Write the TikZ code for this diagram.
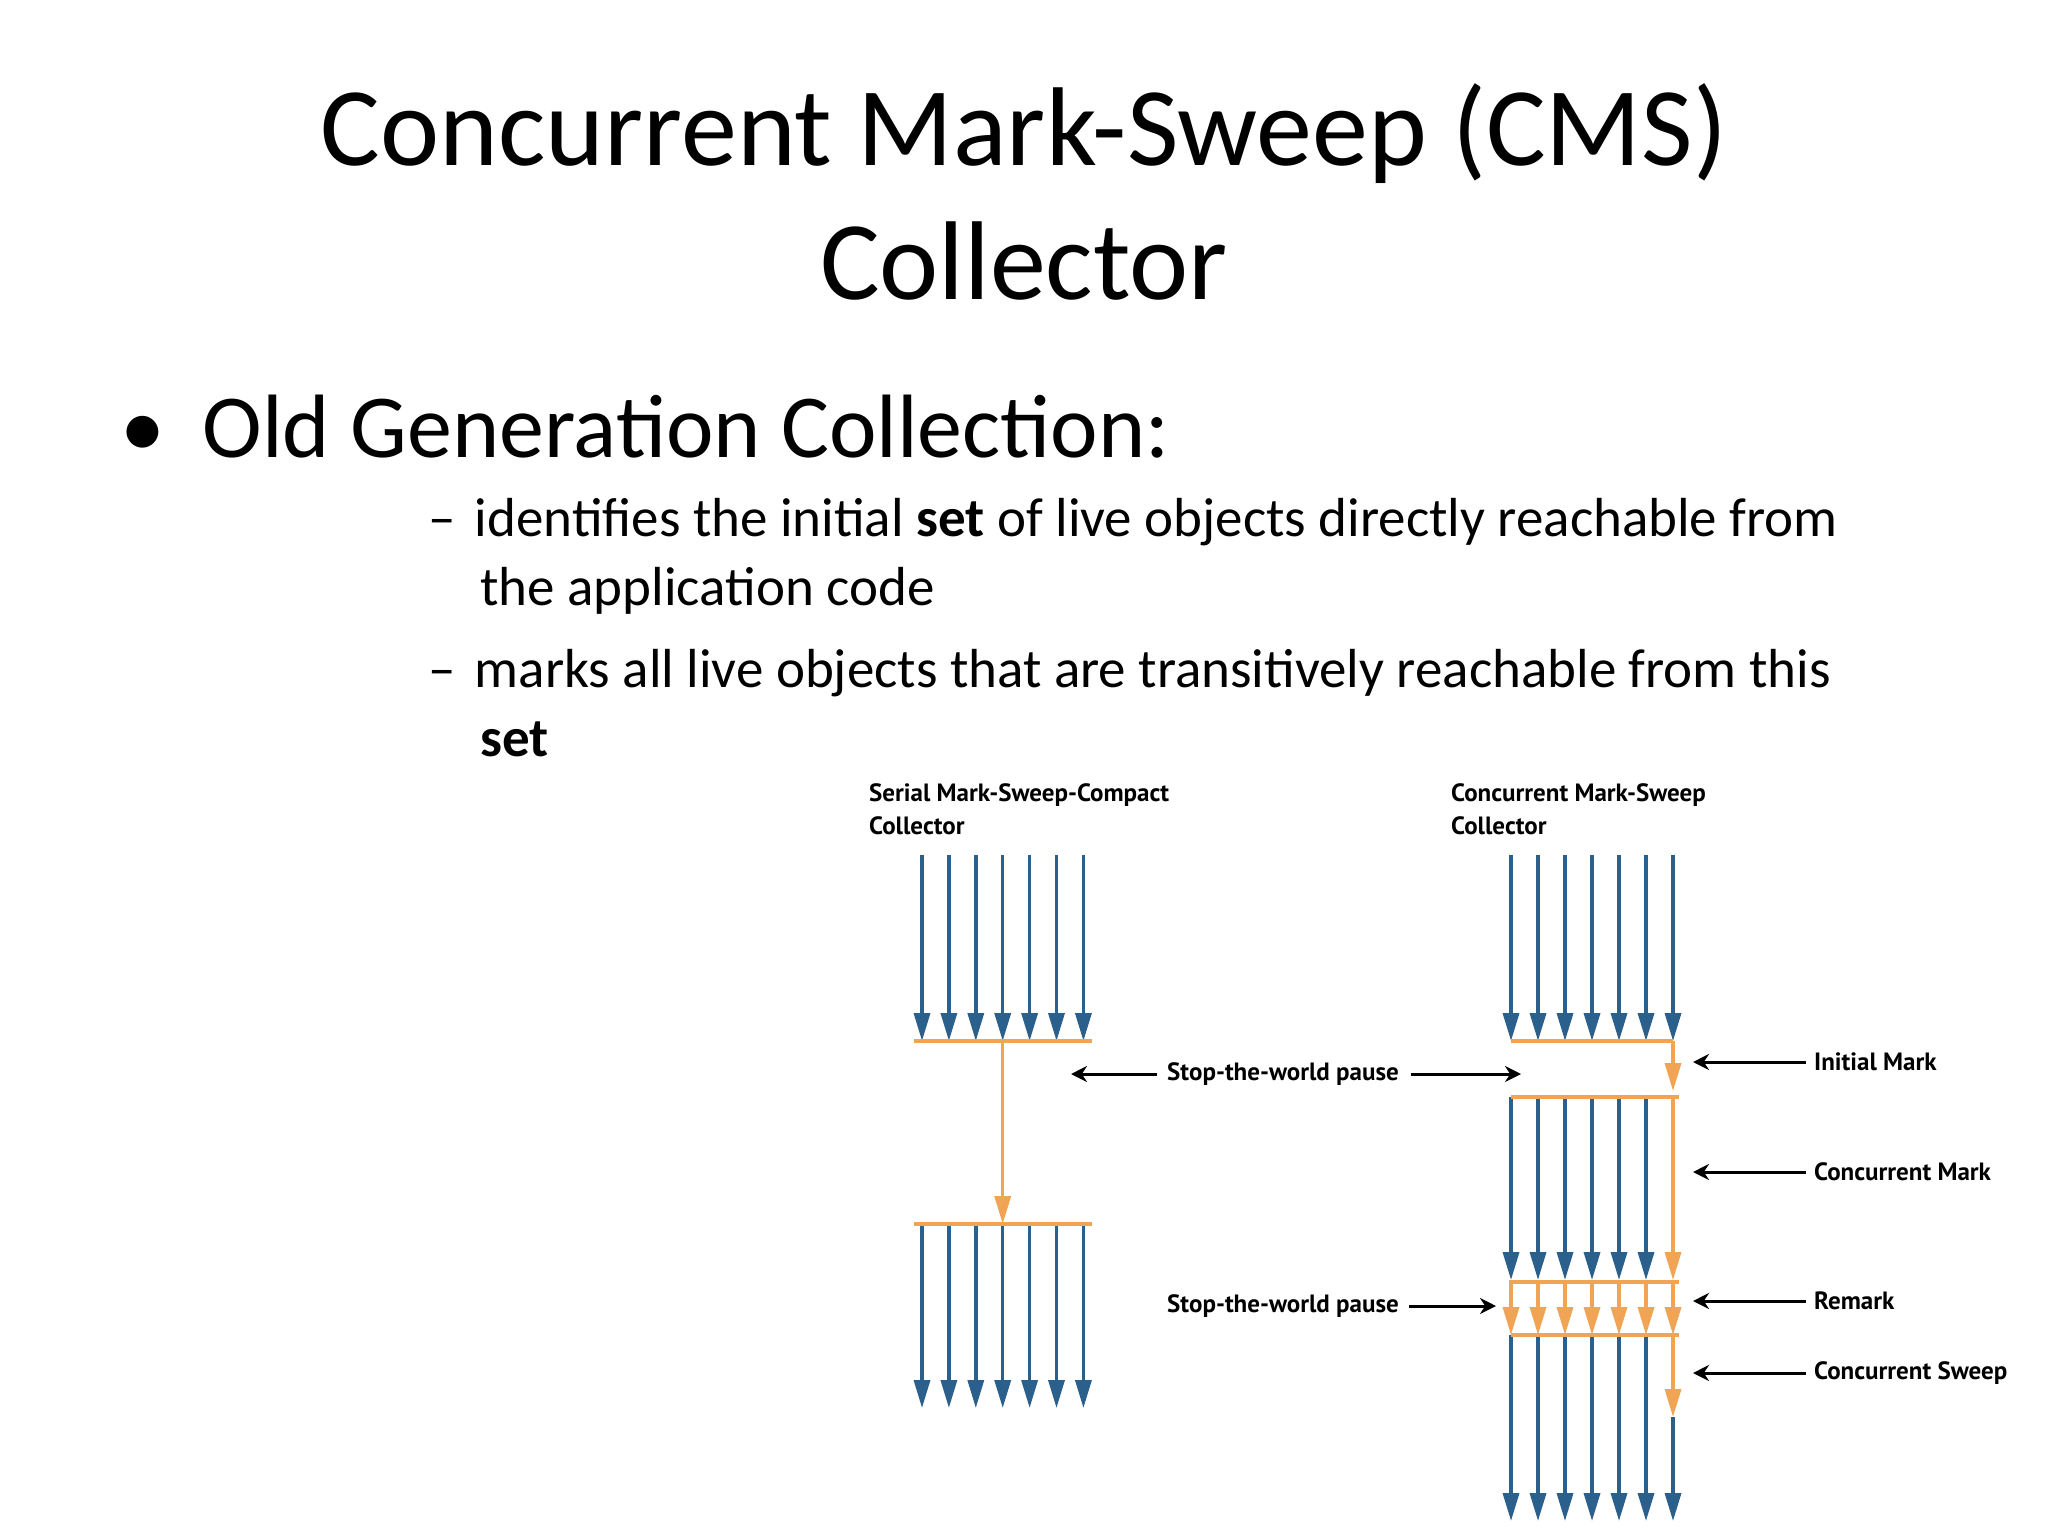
\documentclass[tikz,border=0pt]{standalone}
\usepackage{fontspec}
\setmainfont{Carlito}
\newfontfamily\lblfont{PT Sans}
\usetikzlibrary{arrows.meta}
\definecolor{jblue}{HTML}{2B5F8C}
\definecolor{jorange}{HTML}{F2A455}
\tikzset{
  barr/.style={draw=jblue,line width=3.4pt,-{Triangle[width=16pt,length=28pt]}},
  oarr/.style={draw=jorange,line width=3.4pt,-{Triangle[width=16pt,length=28pt]}},
  oline/.style={draw=jorange,line width=3.2pt},
  karr/.style={draw=black,line width=3pt,-{Stealth[width=16pt,length=16pt]}},
  lbl/.style={font=\lblfont\bfseries\fontsize{25}{33}\selectfont,anchor=west,inner sep=0pt,align=left},
}
\begin{document}
\begin{tikzpicture}[x=1pt,y=-1pt]
\useasboundingbox (0,0) rectangle (2048,1536);
\fill[white] (0,0) rectangle (2048,1536);
% title
\node[font=\fontsize{112}{134}\selectfont,align=center] (title) at (1024,192) {Concurrent Mark-Sweep (CMS)\\Collector};
\node[font=\fontsize{90}{100}\selectfont,anchor=west,inner sep=0pt] (b1) at (120,427) {\textbullet\hspace{0.42em}Old Generation Collection:};
\node[font=\fontsize{55}{69}\selectfont,anchor=north west,inner sep=0pt,align=left] (s1) at (428,498)
 {–\hspace{0.35em}identifies the initial \textbf{set} of live objects directly reachable from\\
  \hspace{0.95em}the application code};
\node[font=\fontsize{55}{69}\selectfont,anchor=north west,inner sep=0pt,align=left] (s2) at (428,649)
 {–\hspace{0.35em}marks all live objects that are transitively reachable from this\\
  \hspace{0.95em}\textbf{set}};
% headers
\node[lbl,anchor=north west] (h1) at (869,783) {Serial Mark-Sweep-Compact\\Collector};
\node[lbl,anchor=north west] (h2) at (1451,783) {Concurrent Mark-Sweep\\Collector};
% left column
\foreach \i in {0,...,6}{
  \coordinate (la\i) at ({922+26.9*\i},855);
  \coordinate (lb\i) at ({922+26.9*\i},1041);
  \coordinate (lc\i) at ({922+26.9*\i},1224);
  \coordinate (ld\i) at ({922+26.9*\i},1408);
  \draw[barr] (la\i) -- (lb\i);
  \draw[barr] (lc\i) -- (ld\i);
}
\coordinate (lo1) at (914,1041); \coordinate (lo2) at (1092,1041);
\coordinate (lo3) at (914,1224); \coordinate (lo4) at (1092,1224);
\draw[oline] (lo1) -- (lo2);
\draw[oline] (lo3) -- (lo4);
\draw[oarr] (lb3) -- (lc3);
% right column
\foreach \i in {0,...,6}{
  \coordinate (ra\i) at ({1511+27*\i},855);
  \coordinate (rb\i) at ({1511+27*\i},1041);
  \coordinate (rc\i) at ({1511+27*\i},1097);
  \coordinate (rd\i) at ({1511+27*\i},1280);
  \coordinate (re\i) at ({1511+27*\i},1335);
  \coordinate (rf\i) at ({1511+27*\i},1521);
  \draw[barr] (ra\i) -- (rb\i);
  \draw[oarr] (rd\i) -- (re\i);
}
\foreach \i in {0,...,5}{
  \draw[barr] (rc\i) -- (rd\i);
  \draw[barr] (re\i) -- (rf\i);
}
\coordinate (rm1) at (1673,1091);
\coordinate (rm2) at (1673,1417);
\draw[oline] (rb0) -- (rb6);
\draw[oarr] (rb6) -- (rm1);
\draw[oline] (rc0) -- ([xshift=6pt]rc6);
\draw[oarr] (rc6) -- (rd6);
\draw[oline] ([yshift=-2pt]rd0) -- ([xshift=6pt,yshift=-2pt]rd6);
\draw[oline] (re0) -- ([xshift=6pt]re6);
\draw[barr] (rm2) -- (rf6);
\draw[oarr] (re6) -- (rm2);
% stop-the-world labels
\node[lbl] (sw1) at (1167,1074) {Stop-the-world pause};
\coordinate (sw1l) at (1071,1074); \coordinate (sw1r) at (1521,1074);
\draw[karr] ([xshift=-10pt]sw1.west) -- (sw1l);
\draw[karr] ([xshift=12pt]sw1.east) -- (sw1r);
\node[lbl] (sw2) at (1167,1306) {Stop-the-world pause};
\coordinate (sw2r) at (1496,1306);
\draw[karr] ([xshift=10pt]sw2.east) -- (sw2r);
% phase labels
\foreach \n/\y/\t in {im/1062/Initial Mark, cm/1172/Concurrent Mark, rk/1301/Remark, cs/1373/Concurrent Sweep}{
  \node[lbl] (\n) at (1814,\y) {\t};
  \coordinate (\n a) at (1693,\y);
  \draw[karr] ([xshift=-8pt]\n.west) -- (\n a);
}
\end{tikzpicture}
\end{document}
